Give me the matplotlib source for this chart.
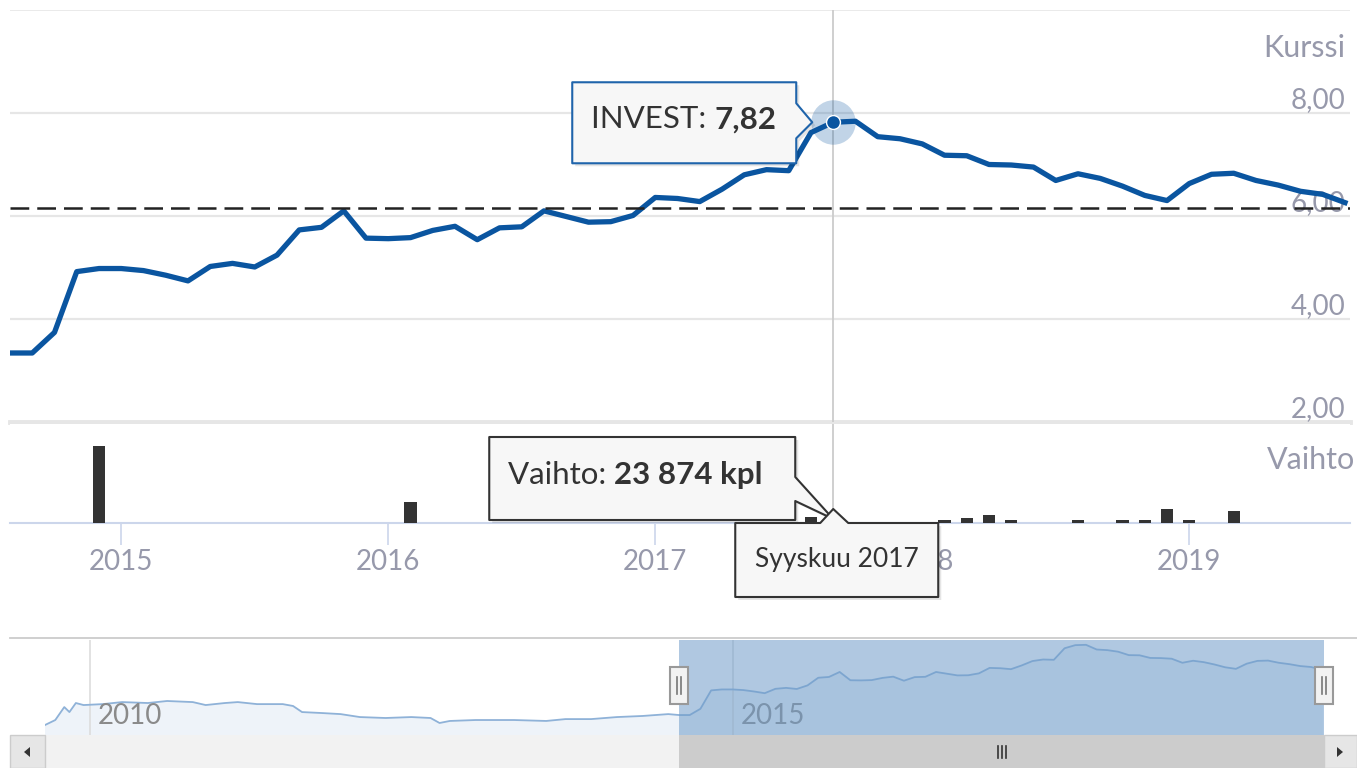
import matplotlib
matplotlib.use('Agg')
import matplotlib.pyplot as plt
from matplotlib.patches import Polygon, Rectangle
import numpy as np

plt.rcParams['font.family'] = ['Lato', 'DejaVu Sans']

W, H = 1357, 768

# --- data ---
# monthly closing price, Aug 2014 .. Aug 2019
start_year, start_month = 2014, 8
price = [
    3.34, 3.34, 3.74, 4.92, 4.98,
    4.98, 4.94, 4.85, 4.74, 5.02, 5.08, 5.01, 5.24, 5.73, 5.78, 6.10, 5.57,
    5.56, 5.58, 5.72, 5.80, 5.54, 5.77, 5.79, 6.10, 5.99, 5.88, 5.89, 6.01,
    6.36, 6.34, 6.28, 6.52, 6.80, 6.90, 6.88, 7.62, 7.82, 7.84, 7.54, 7.50,
    7.40, 7.18, 7.17, 7.00, 6.99, 6.95, 6.69, 6.82, 6.73, 6.58, 6.40, 6.30,
    6.63, 6.81, 6.83, 6.69, 6.60, 6.48, 6.42, 6.26,
]
x_price = start_year + (start_month - 1 + np.arange(len(price))) / 12.0

# monthly volume (kpl)
vol_year = [2014, 2016, 2017, 2017, 2018, 2018, 2018, 2018, 2018, 2018, 2018, 2018, 2019, 2019]
vol_month = [12, 2, 8, 9, 2, 3, 4, 5, 8, 10, 11, 12, 1, 3]
vol_kpl = [194000, 53000, 15000, 23874, 7000, 12500, 19000, 7000, 6500, 7000, 7500, 35000, 7000, 30000]
x_vol = np.array(vol_year) + (np.array(vol_month) - 1) / 12.0

# longer history for the navigator (before Aug 2014)
hist_x = [2009.65, 2009.73, 2009.80, 2009.84, 2009.89, 2009.95, 2010.10, 2010.25, 2010.45,
          2010.60, 2010.80, 2010.90, 2011.05, 2011.15, 2011.30, 2011.50, 2011.58, 2011.65,
          2011.80, 2011.95, 2012.10, 2012.30, 2012.50, 2012.65, 2012.72, 2012.80, 2013.00,
          2013.30, 2013.55, 2013.70, 2013.90, 2014.10, 2014.30, 2014.50]
hist_y = [2.70, 3.02, 3.85, 3.53, 4.11, 3.98, 4.04, 4.17, 4.11,
          4.24, 4.17, 3.98, 4.11, 4.17, 4.04, 4.04, 3.92, 3.53,
          3.47, 3.40, 3.21, 3.15, 3.21, 3.15, 2.83, 2.96, 3.02,
          3.02, 2.96, 3.08, 3.08, 3.21, 3.28, 3.40]

ref_level = 6.16
y_ticks = [2, 4, 6, 8]
year_ticks = [2015, 2016, 2017, 2018, 2019]
nav_ticks = [2010, 2015]
sel = 37  # Syyskuu 2017

x_lo = start_year + (start_month - 1) / 12.0
x_hi = x_lo + 1340 / 267.0

label_col = '#9799ab'
line_col = '#0a55a0'

fig = plt.figure(figsize=(W / 100, H / 100), dpi=100)


def px_axes(x0, y0, x1, y1):
    return fig.add_axes([x0 / W, 1 - y1 / H, (x1 - x0) / W, (y1 - y0) / H])


# price panel
ax = px_axes(10, 10, 1350, 422)
ax.set_xlim(x_lo, x_hi)
ax.set_ylim(2, 10)
ax.axis('off')
for v in y_ticks[1:]:
    ax.axhline(v, color='#e6e6e6', lw=1.6, zorder=1)
ax.axhline(10, color='#e6e6e6', lw=1.2, zorder=1)
ax.axhline(2, color='#e6e6e6', lw=3.5, zorder=1, clip_on=False)
for v in y_ticks:
    ax.text(0.9963, v, ('%.2f' % v).replace('.', ','), transform=ax.get_yaxis_transform(),
            ha='right', va='bottom', fontsize=20, color=label_col, zorder=2)
ax.text(0.9963, 0.907, 'Kurssi', transform=ax.transAxes, ha='right', va='center',
        fontsize=22, color=label_col)
ax.axvline(x_price[sel], color='#cccccc', lw=1.3, zorder=1)
ax.plot(x_price, price, color=line_col, lw=3.8, solid_joinstyle='round', zorder=4)
ax.axhline(ref_level, color='#222222', lw=1.8, ls=(0, (7.5, 3.2)), zorder=5)
ax.plot(x_price[sel], price[sel], 'o', ms=32, color=line_col, alpha=0.25, mec='none', zorder=5)
ax.plot(x_price[sel], price[sel], 'o', ms=10, color=line_col, mec='white', mew=1, zorder=6)

# volume panel
av = px_axes(10, 424, 1350, 523)
av.set_xlim(x_lo, x_hi)
av.set_ylim(0, 250000)
for s in ['left', 'right', 'top']:
    av.spines[s].set_visible(False)
av.spines['bottom'].set_color('#ccd6eb')
av.spines['bottom'].set_linewidth(1.5)
av.set_yticks([])
av.set_xticks(year_ticks)
av.set_xticklabels([str(y) for y in year_ticks], fontsize=20, color=label_col)
av.tick_params(axis='x', length=16, width=1.2, color='#ccd6eb', pad=3)
av.axvline(x_price[sel], color='#cccccc', lw=1.3, zorder=1)
av.bar(x_vol, vol_kpl, width=0.045, color='#333333', zorder=3)
av.text(1.004, 0.64, 'Vaihto', transform=av.transAxes, ha='right', va='center',
        fontsize=22, color=label_col)

# navigator
nav_lo, nav_hi = 2009.65, x_hi
an = px_axes(45, 640, 1324, 735)
an.set_xlim(nav_lo, nav_hi)
an.set_ylim(2.06, 8.15)
an.axis('off')
nx = np.concatenate([hist_x, x_price])
ny = np.concatenate([hist_y, price])
an.fill_between(nx, ny, 2.06, color='#eef3f9', zorder=1)
an.plot(nx, ny, color='#8fb2d8', lw=1.3, zorder=2)
for t in nav_ticks:
    an.axvline(t, color='#dddddd', lw=1.2, zorder=1.5)
    an.annotate(str(t), (t, 0.2), xycoords=an.get_xaxis_transform(), xytext=(8, 0),
                textcoords='offset pixels', ha='left', va='center', fontsize=20,
                color='#8a8a8a', zorder=2)
an.axvspan(x_lo, x_hi, color='#6f9cc9', alpha=0.55, lw=0, zorder=3)

# overlay in pixel coords for the widgets and tooltips
ov = fig.add_axes([0, 0, 1, 1])
ov.set_xlim(0, W)
ov.set_ylim(H, 0)
ov.axis('off')


def to_px(a, x, y):
    d = a.transData.transform((x, y))
    return d[0], H - d[1]


ov.plot([10, W], [638, 638], color='#cccccc', lw=1.3)

sx0, _ = to_px(an, x_lo, 0)
sx1, _ = to_px(an, x_hi, 0)
ov.add_patch(Rectangle((10, 735), W - 10, 33, fc='#f2f2f2', ec='none'))
ov.add_patch(Rectangle((sx0, 735), sx1 - sx0, 33, fc='#cccccc', ec='none'))
ov.add_patch(Rectangle((10, 735), 35, 33, fc='#e6e6e6', ec='#cccccc', lw=1))
ov.add_patch(Rectangle((sx1, 735), W - sx1, 33, fc='#e6e6e6', ec='#cccccc', lw=1))
ov.add_patch(Polygon([(24, 752), (30, 747), (30, 757)], fc='#333333', ec='none'))
ov.add_patch(Polygon([(1343, 752), (1337, 747), (1337, 757)], fc='#333333', ec='none'))
cx = (sx0 + sx1) / 2
for dx in (-4, 0, 4):
    ov.plot([cx + dx, cx + dx], [746, 758], color='#333333', lw=1.2)
for hx in (sx0, sx1):
    ov.add_patch(Rectangle((hx - 9, 667), 18, 37, fc='#f2f2f2', ec='#999999', lw=1.5))
    for dx in (-2, 2):
        ov.plot([hx + dx, hx + dx], [677, 694], color='#777777', lw=1.2)


def tooltip(verts, edge):
    sh = [(x + 3, y + 3) for x, y in verts]
    ov.add_patch(Polygon(sh, closed=True, fc='#000000', alpha=0.10, ec='none', zorder=8))
    ov.add_patch(Polygon(verts, closed=True, fc='#f7f7f7', ec=edge, lw=1.5,
                         joinstyle='round', zorder=9))


def two_part(x, y, a, b, size):
    r = fig.canvas.get_renderer()
    t = ov.text(x, y, a, fontsize=size, color='#333333', va='center', ha='left', zorder=10)
    bb = t.get_window_extent(renderer=r)
    ov.text(bb.x1, y, b, fontsize=size, color='#333333', va='center', ha='left',
            fontweight='bold', zorder=10)


# price tooltip
px_, py_ = to_px(ax, x_price[sel], price[sel])
l, r_, t, b = px_ - 261, px_ - 37, py_ - 40, py_ + 41
tooltip([(l, t), (r_, t), (r_, py_ - 19), (px_ - 21, py_), (r_, py_ + 16), (r_, b), (l, b)], '#1f64ab')
two_part(l + 19, py_ - 3, 'INVEST: ', ('%.2f' % price[sel]).replace('.', ','), 22.5)

# volume tooltip
vx, vy = to_px(av, x_vol[3], vol_kpl[3])
base = to_px(av, x_vol[3], 0)[1]
l, r_, t, b = vx - 344, vx - 38, base - 86, base - 3
tooltip([(l, t), (r_, t), (r_, t + 40), (vx, base - 4), (r_, t + 64), (r_, b), (l, b)], '#333333')
vol_txt = '{:,}'.format(vol_kpl[3]).replace(',', ' ') + ' kpl'
two_part(l + 19, t + 38, 'Vaihto: ', vol_txt, 22.5)

# date tooltip
l, r_, t, b = vx - 98, vx + 105, base, base + 74
tooltip([(l, t), (vx - 13, t), (vx, t - 14), (vx + 15, t), (r_, t), (r_, b), (l, b)], '#333333')
ov.text((l + r_) / 2, t + 37, 'Syyskuu 2017', fontsize=19, color='#333333',
        ha='center', va='center', zorder=10)

fig.savefig('out.png', dpi=100)
